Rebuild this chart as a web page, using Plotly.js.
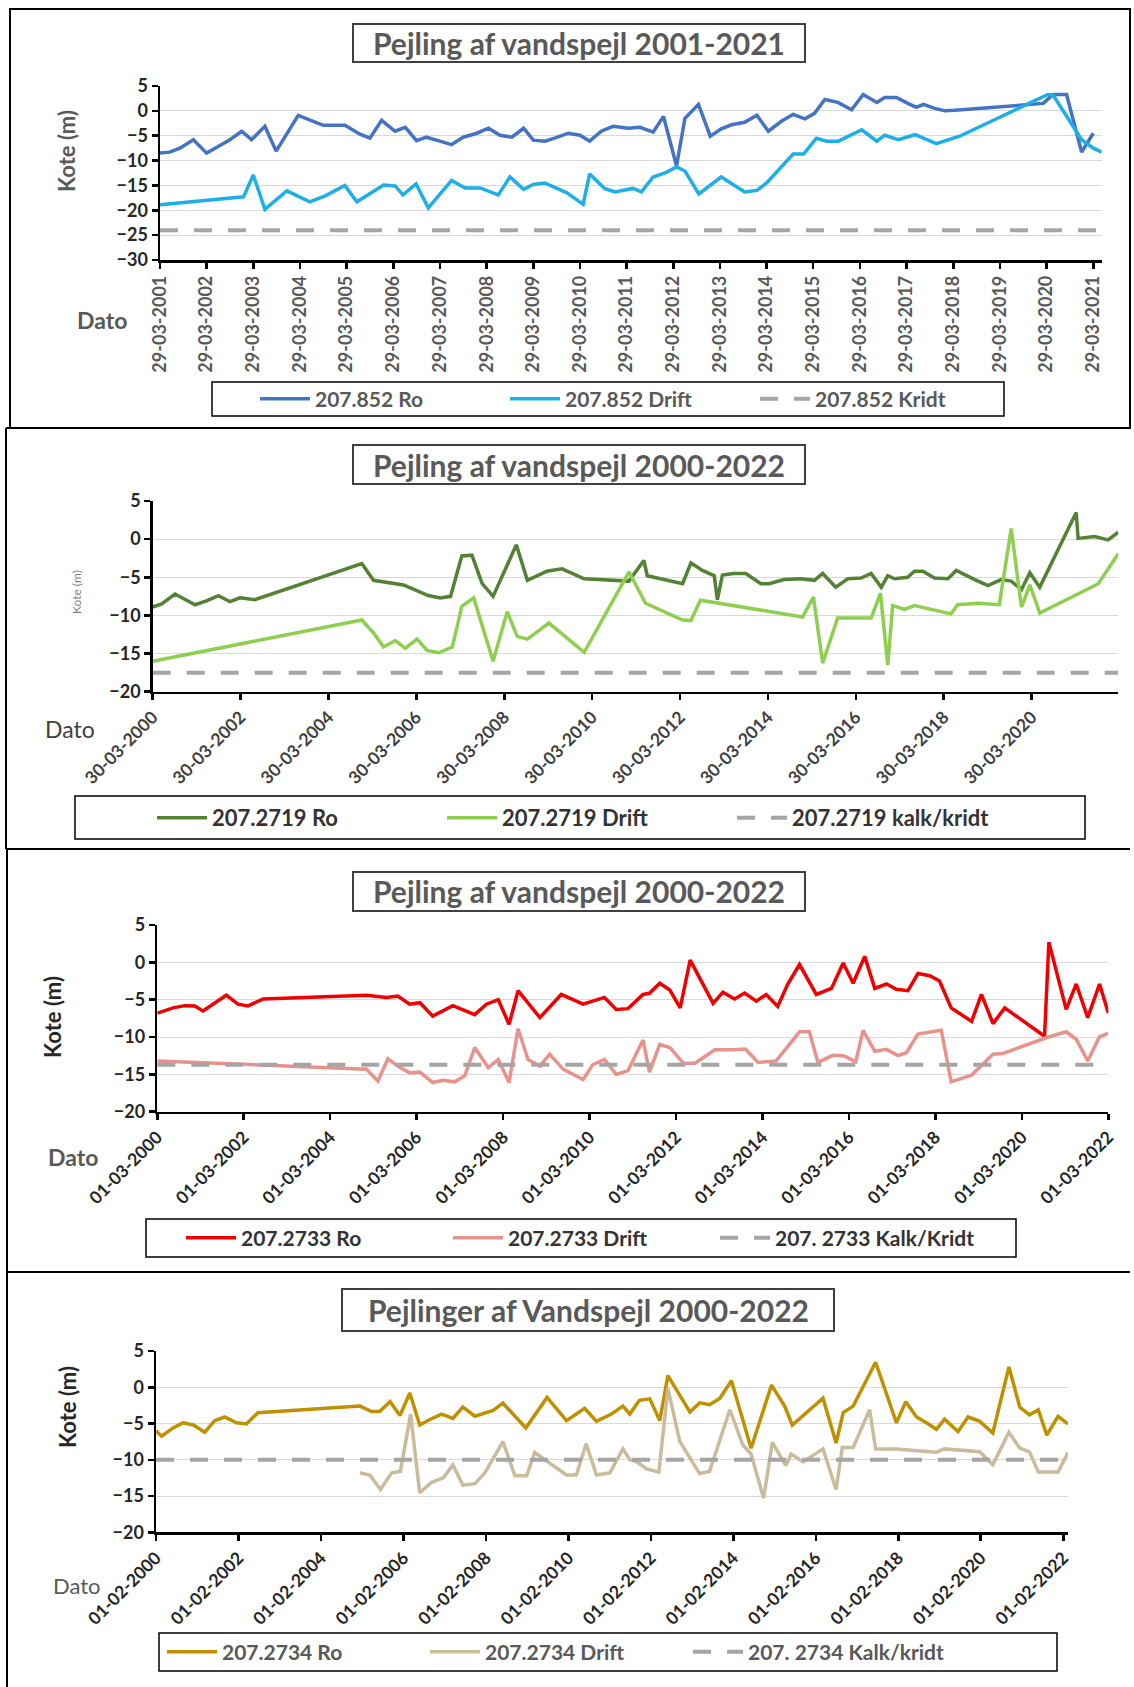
<!DOCTYPE html>
<html>
<head>
<meta charset="utf-8">
<script src="https://cdn.plot.ly/plotly-3.0.1.min.js"></script>
<style>
html,body{margin:0;padding:0;background:#fff;}
#chart{width:1134px;height:1687px;}
</style>
</head>
<body>
<div id="chart"></div>
<script>
// ---------------- DATA ----------------
// Panel 1: 207.852
const p1RoDates = ['2001-03-29','2001-06-13','2001-09-01','2001-12-15','2002-03-29','2002-07-12','2002-09-27','2002-12-28','2003-03-15','2003-06-28','2003-09-24','2004-03-15','2004-09-27','2005-03-15','2005-07-12','2005-09-27','2005-12-28','2006-04-12','2006-07-01','2006-09-27','2006-12-13','2007-03-29','2007-06-28','2007-09-27','2008-01-12','2008-04-12','2008-07-12','2008-10-12','2009-01-12','2009-03-29','2009-06-28','2009-09-12','2009-12-28','2010-03-29','2010-06-13','2010-09-12','2010-12-13','2011-04-12','2011-07-12','2011-10-23','2012-01-12','2012-04-23','2012-06-28','2012-10-12','2013-01-12','2013-04-08','2013-06-28','2013-10-08','2014-01-12','2014-04-12','2014-07-23','2014-10-23','2015-01-23','2015-04-08','2015-06-28','2015-10-08','2016-01-23','2016-04-23','2016-08-08','2016-10-08','2017-01-08','2017-04-08','2017-06-13','2017-08-08','2017-11-03','2018-01-23','2018-04-08','2020-03-03','2020-05-18','2020-09-01','2020-12-28','2021-03-29'];
const p1RoValues = [-8.5,-8.3,-7.5,-5.8,-8.5,-6.9,-5.8,-4.1,-5.8,-3.1,-8.1,-0.9,-2.9,-2.9,-4.7,-5.5,-1.9,-4.1,-3.3,-6.0,-5.3,-6.1,-6.8,-5.3,-4.5,-3.5,-4.9,-5.3,-3.5,-5.9,-6.1,-5.5,-4.5,-4.9,-6.1,-4.1,-3.1,-3.5,-3.3,-4.3,-1.1,-11.1,-1.5,1.3,-5.1,-3.6,-2.8,-2.3,-0.9,-4.1,-2.1,-0.7,-1.6,-0.5,2.3,1.7,0.2,3.3,1.7,2.7,2.7,1.5,0.7,1.3,0.5,0.0,0.1,1.5,3.3,3.3,-8.3,-4.5];
const p1DriftDates = ['2001-03-29','2003-01-12','2003-03-29','2003-06-28','2003-12-17','2004-06-13','2004-10-12','2005-03-15','2005-06-17','2005-09-27','2006-01-12','2006-04-12','2006-06-13','2006-09-23','2006-12-28','2007-06-28','2007-10-12','2008-02-06','2008-06-28','2008-09-27','2009-01-12','2009-03-29','2009-06-28','2009-12-17','2010-04-23','2010-06-13','2010-10-08','2010-12-28','2011-05-18','2011-07-23','2011-10-23','2012-01-23','2012-04-23','2012-06-28','2012-10-15','2013-04-08','2013-10-08','2014-01-12','2014-03-29','2014-10-23','2015-01-12','2015-04-23','2015-07-12','2015-10-12','2016-04-12','2016-08-08','2016-10-08','2017-01-23','2017-06-03','2017-11-17','2018-05-18','2020-04-08','2020-05-18','2020-12-28','2021-03-29','2021-06-03'];
const p1DriftValues = [-18.9,-17.3,-12.9,-19.8,-16.1,-18.3,-17.1,-15.0,-18.3,-16.7,-14.9,-15.1,-16.9,-14.7,-19.5,-14.0,-15.5,-15.5,-16.9,-13.3,-15.8,-14.8,-14.5,-16.5,-18.8,-12.7,-15.6,-16.3,-15.6,-16.3,-13.3,-12.5,-11.3,-12.1,-16.7,-13.3,-16.3,-16.0,-14.5,-8.7,-8.7,-5.5,-6.1,-6.1,-3.8,-6.1,-4.9,-5.8,-4.8,-6.6,-5.1,3.3,3.2,-5.8,-7.5,-8.3];
const p1KridtDates = ['2001-03-29','2021-06-03'];
const p1KridtValues = [-24,-24];
const p1TickDates = ['2001-03-29','2002-03-29','2003-03-29','2004-03-29','2005-03-29','2006-03-29','2007-03-29','2008-03-29','2009-03-29','2010-03-29','2011-03-29','2012-03-29','2013-03-29','2014-03-29','2015-03-29','2016-03-29','2017-03-29','2018-03-29','2019-03-29','2020-03-29','2021-03-29'];

// Panel 2: 207.2719
const p2RoDates = ['2000-03-30','2000-06-13','2000-10-01','2001-03-17','2001-06-20','2001-09-27','2002-01-01','2002-03-25','2002-07-27','2005-01-01','2005-04-08','2005-12-13','2006-07-08','2006-10-15','2007-01-08','2007-04-12','2007-07-05','2007-09-27','2007-12-28','2008-07-08','2008-10-08','2009-03-20','2009-07-23','2010-01-23','2011-01-30','2011-06-03','2011-07-01','2012-04-20','2012-06-28','2012-10-01','2013-01-08','2013-02-03','2013-03-17','2013-06-20','2013-09-27','2014-01-30','2014-04-08','2014-08-12','2014-12-28','2015-04-20','2015-06-28','2015-10-15','2016-01-23','2016-05-12','2016-08-04','2016-10-27','2016-12-20','2017-02-14','2017-06-03','2017-07-30','2017-10-08','2018-01-12','2018-05-04','2018-07-12','2018-12-13','2019-04-01','2019-07-20','2019-10-12','2020-01-05','2020-03-15','2020-06-05','2021-04-04','2021-04-20','2021-09-05','2021-12-25','2022-03-20'];
const p2RoValues = [-8.9,-8.5,-7.2,-8.6,-8.1,-7.4,-8.2,-7.7,-7.95,-3.2,-5.4,-6.0,-7.4,-7.7,-7.5,-2.2,-2.1,-5.8,-7.5,-0.75,-5.4,-4.2,-3.9,-5.2,-5.5,-2.8,-4.8,-5.85,-3.1,-4.1,-4.8,-7.95,-4.7,-4.5,-4.5,-5.85,-5.85,-5.3,-5.2,-5.4,-4.5,-6.3,-5.2,-5.1,-4.5,-6.3,-4.8,-5.2,-5.0,-4.2,-4.2,-5.1,-5.2,-4.1,-5.3,-6.1,-5.3,-5.5,-6.6,-4.4,-6.3,3.5,0.1,0.35,-0.1,0.9];
const p2DriftDates = ['2000-03-30','2005-01-01','2005-04-08','2005-07-01','2005-10-05','2005-12-28','2006-04-05','2006-06-28','2006-10-01','2007-01-23','2007-04-12','2007-07-20','2007-12-28','2008-04-23','2008-07-15','2008-10-08','2009-04-05','2010-01-23','2011-01-30','2011-06-17','2012-04-20','2012-06-28','2012-09-15','2015-01-12','2015-04-12','2015-06-28','2015-10-30','2016-08-04','2016-10-20','2016-12-20','2017-01-30','2017-05-08','2017-07-30','2018-05-30','2018-07-23','2019-01-08','2019-07-05','2019-10-12','2020-01-05','2020-03-15','2020-06-05','2021-10-05','2022-03-20'];
const p2DriftValues = [-16.0,-10.6,-12.3,-14.15,-13.3,-14.3,-13.1,-14.6,-14.9,-14.15,-8.8,-7.7,-16.0,-9.5,-12.75,-13.1,-11.0,-14.85,-4.3,-8.4,-10.6,-10.66,-8.0,-10.2,-7.6,-16.25,-10.35,-10.35,-7.1,-16.5,-8.7,-9.2,-8.7,-9.8,-8.6,-8.4,-8.6,1.4,-8.9,-6.0,-9.7,-5.85,-1.9];
const p2KridtDates = ['2000-03-30','2022-03-20'];
const p2KridtValues = [-17.5,-17.5];
const p2TickDates = ['2000-03-30','2002-03-30','2004-03-30','2006-03-30','2008-03-30','2010-03-30','2012-03-30','2014-03-30','2016-03-30','2018-03-30','2020-03-30'];

// Panel 3: 207.2733
const p3RoDates = ['2000-03-01','2000-07-12','2000-10-20','2001-01-12','2001-03-22','2001-10-05','2002-01-12','2002-04-05','2002-08-12','2005-01-01','2005-06-17','2005-09-23','2006-01-01','2006-03-29','2006-07-15','2007-01-01','2007-07-05','2007-10-12','2008-01-20','2008-04-20','2008-07-05','2009-01-05','2009-07-05','2010-01-05','2010-07-05','2010-10-12','2011-01-20','2011-05-27','2011-07-20','2011-10-15','2012-01-08','2012-04-05','2012-06-28','2013-01-08','2013-04-01','2013-07-08','2013-10-01','2014-01-08','2014-04-01','2014-07-08','2014-10-01','2015-01-08','2015-05-30','2015-10-05','2016-01-12','2016-04-05','2016-07-12','2016-10-05','2017-01-12','2017-04-05','2017-07-12','2017-10-05','2018-01-12','2018-04-05','2018-07-12','2019-01-01','2019-03-25','2019-07-01','2019-10-08','2020-09-08','2020-10-15','2021-03-10','2021-06-03','2021-09-08','2021-12-17','2022-03-01'];
const p3RoValues = [-6.8,-6.1,-5.8,-5.85,-6.5,-4.4,-5.6,-5.85,-4.9,-4.4,-4.7,-4.5,-5.6,-5.4,-7.2,-5.8,-7.0,-5.6,-5.0,-8.3,-3.8,-7.4,-4.3,-5.6,-4.7,-6.3,-6.2,-4.3,-4.15,-2.8,-3.7,-6.1,0.3,-5.5,-4.0,-4.9,-4.1,-5.2,-4.3,-5.9,-2.9,-0.3,-4.3,-3.5,-0.1,-2.8,0.8,-3.5,-2.9,-3.6,-3.8,-1.5,-1.8,-2.5,-6.1,-7.9,-4.3,-8.2,-6.1,-9.9,2.7,-6.3,-2.9,-7.4,-2.9,-6.8];
const p3DriftDates = ['2000-03-01','2005-01-01','2005-04-08','2005-07-01','2005-09-23','2006-01-01','2006-03-29','2006-07-15','2006-10-08','2007-01-15','2007-04-12','2007-07-05','2007-10-27','2008-01-20','2008-04-20','2008-07-05','2008-09-27','2009-01-05','2009-03-29','2009-07-20','2010-01-05','2010-03-29','2010-07-05','2010-10-12','2011-01-20','2011-05-27','2011-07-20','2011-10-15','2012-01-08','2012-05-01','2012-08-08','2013-01-23','2013-07-08','2013-10-08','2014-01-23','2014-06-25','2015-01-08','2015-04-01','2015-06-13','2015-10-15','2016-01-15','2016-04-27','2016-06-28','2016-10-05','2017-01-12','2017-04-20','2017-06-28','2017-10-05','2018-04-20','2018-07-12','2019-01-01','2019-07-01','2019-09-23','2020-09-23','2021-03-10','2021-06-03','2021-09-08','2021-12-17','2022-03-01'];
const p3DriftValues = [-13.2,-14.3,-15.9,-12.9,-13.9,-14.8,-14.7,-16.1,-15.8,-16.0,-15.2,-11.4,-14.1,-13.0,-16.1,-8.9,-13.0,-13.9,-12.3,-14.3,-15.7,-13.7,-13.0,-15.0,-14.5,-10.4,-14.7,-11.0,-11.4,-13.5,-13.5,-11.7,-11.7,-11.6,-13.4,-13.2,-9.3,-9.3,-13.4,-12.45,-12.5,-13.3,-9.1,-11.9,-11.65,-12.5,-12.1,-9.6,-9.1,-16.0,-15.1,-12.3,-12.2,-10.1,-9.3,-10.3,-13.2,-9.95,-9.5];
const p3KridtDates = ['2000-03-01','2022-03-01'];
const p3KridtValues = [-13.7,-13.7];
const p3TickDates = ['2000-03-01','2002-03-01','2004-03-01','2006-03-01','2008-03-01','2010-03-01','2012-03-01','2014-03-01','2016-03-01','2018-03-01','2020-03-01','2022-03-01'];

// Panel 4: 207.2734
const p4RoDates = ['2000-02-01','2000-03-22','2000-07-01','2000-09-27','2000-12-28','2001-04-08','2001-07-05','2001-10-01','2002-01-15','2002-04-12','2002-07-23','2002-11-03','2005-01-12','2005-04-23','2005-07-05','2005-10-05','2006-01-01','2006-03-29','2006-06-25','2006-09-23','2007-01-05','2007-04-15','2007-07-12','2007-10-27','2008-01-23','2008-04-05','2008-07-01','2008-10-15','2009-01-20','2009-07-27','2010-01-15','2010-06-25','2010-10-08','2011-02-17','2011-05-30','2011-07-30','2011-10-23','2012-01-23','2012-04-20','2012-07-01','2013-01-12','2013-04-08','2013-07-05','2013-10-05','2014-01-15','2014-07-08','2015-01-05','2015-05-01','2015-07-08','2016-04-05','2016-07-30','2016-10-01','2016-12-28','2017-07-15','2018-01-15','2018-04-08','2018-07-12','2018-10-08','2019-01-05','2019-03-17','2019-07-15','2019-10-12','2020-01-23','2020-05-18','2020-10-08','2021-01-12','2021-04-08','2021-06-25','2021-09-08','2021-12-17','2022-03-15'];
const p4RoValues = [-6.0,-6.75,-5.6,-4.9,-5.2,-6.2,-4.6,-4.1,-4.9,-5.05,-3.5,-3.4,-2.6,-3.35,-3.35,-2.0,-3.9,-0.8,-5.2,-4.45,-3.7,-4.3,-2.75,-4.0,-3.5,-3.2,-2.2,-4.0,-5.6,-1.4,-4.6,-2.9,-4.7,-3.7,-2.6,-3.7,-1.8,-1.6,-4.6,1.6,-3.4,-2.15,-2.4,-1.5,0.9,-8.4,0.3,-2.6,-5.2,-1.5,-7.7,-3.5,-2.6,3.45,-4.9,-2.0,-4.1,-4.9,-5.8,-4.4,-6.1,-4.1,-4.7,-6.3,2.8,-2.75,-3.8,-3.1,-6.6,-4.0,-5.05];
const p4DriftDates = ['2005-01-12','2005-04-08','2005-07-12','2005-10-20','2006-01-05','2006-04-05','2006-06-25','2006-10-08','2007-01-20','2007-04-15','2007-07-12','2007-10-27','2008-01-23','2008-07-01','2008-10-15','2009-01-27','2009-04-08','2009-07-05','2010-01-15','2010-04-12','2010-07-08','2010-10-08','2011-02-03','2011-05-30','2011-07-30','2011-09-23','2011-12-25','2012-04-12','2012-07-01','2012-10-15','2013-04-08','2013-07-05','2014-01-01','2014-04-27','2014-07-08','2014-10-27','2015-01-12','2015-05-12','2015-06-28','2015-10-12','2016-04-05','2016-07-30','2016-09-23','2016-12-28','2017-05-23','2017-07-15','2018-01-15','2019-01-05','2019-03-17','2020-01-23','2020-05-18','2020-10-08','2021-01-12','2021-04-08','2021-06-25','2021-12-17','2022-03-15'];
const p4DriftValues = [-11.8,-12.1,-14.1,-11.8,-11.6,-3.7,-14.55,-13.1,-12.5,-10.7,-13.5,-13.3,-11.8,-7.5,-12.2,-12.2,-9.0,-10.0,-12.1,-12.1,-7.8,-12.1,-11.8,-8.5,-10.0,-10.2,-11.25,-11.7,-0.2,-7.5,-11.9,-11.6,-3.1,-8.0,-9.2,-15.3,-7.6,-10.8,-9.2,-10.3,-8.5,-14.1,-8.3,-8.3,-3.1,-8.5,-8.5,-8.95,-8.5,-8.9,-10.7,-6.2,-8.4,-8.9,-11.7,-11.7,-9.0];
const p4KridtDates = ['2000-02-01','2022-03-15'];
const p4KridtValues = [-10,-10];
const p4TickDates = ['2000-02-01','2002-02-01','2004-02-01','2006-02-01','2008-02-01','2010-02-01','2012-02-01','2014-02-01','2016-02-01','2018-02-01','2020-02-01','2022-02-01'];

// ---------------- LAYOUT HELPERS ----------------
const W = 1134, H = 1687;
const fx = x => x / W;
const fy = y => 1 - y / H;
const FONT = 'Lato, "Open Sans", sans-serif';
const GRID = '#D9D9D9';
const KRIDT = '#A5A5A5';
const DASH = '18px,16px';

function line(x, y, color, width, name, xa, ya, leg, dash) {
  return {x: x, y: y, type: 'scatter', mode: 'lines', name: name,
    line: {color: color, width: width, dash: dash || 'solid'},
    xaxis: xa, yaxis: ya, legend: leg, hoverinfo: 'skip'};
}

const traces = [
  line(p1RoDates, p1RoValues, '#4472C4', 3.5, '207.852 Ro', 'x', 'y', 'legend'),
  line(p1DriftDates, p1DriftValues, '#1EAEE8', 3.5, '207.852 Drift', 'x', 'y', 'legend'),
  line(p1KridtDates, p1KridtValues, KRIDT, 4, '207.852 Kridt', 'x', 'y', 'legend', DASH),
  line(p2RoDates, p2RoValues, '#548235', 3.5, '207.2719 Ro', 'x2', 'y2', 'legend2'),
  line(p2DriftDates, p2DriftValues, '#8FCF4F', 3.5, '207.2719 Drift', 'x2', 'y2', 'legend2'),
  line(p2KridtDates, p2KridtValues, KRIDT, 4, '207.2719 kalk/kridt', 'x2', 'y2', 'legend2', DASH),
  line(p3RoDates, p3RoValues, '#F00000', 3.5, '207.2733 Ro', 'x3', 'y3', 'legend3'),
  line(p3DriftDates, p3DriftValues, '#E8928C', 3.5, '207.2733 Drift', 'x3', 'y3', 'legend3'),
  line(p3KridtDates, p3KridtValues, KRIDT, 4, '207. 2733 Kalk/Kridt', 'x3', 'y3', 'legend3', DASH),
  line(p4RoDates, p4RoValues, '#BF9000', 3.5, '207.2734 Ro', 'x4', 'y4', 'legend4'),
  line(p4DriftDates, p4DriftValues, '#CBBB9D', 3.5, '207.2734 Drift', 'x4', 'y4', 'legend4'),
  line(p4KridtDates, p4KridtValues, KRIDT, 4, '207. 2734 Kalk/kridt', 'x4', 'y4', 'legend4', DASH)
];

function xax(domain, range, ticks, angle, anchor, fontColor, size) {
  return {domain: domain, anchor: anchor, type: 'date', range: range,
    tickmode: 'array', tickvals: ticks, tickformat: '%d-%m-%Y', tickangle: angle,
    showgrid: false, zeroline: false, showline: true, linecolor: '#000', linewidth: 2.5,
    ticks: 'outside', ticklen: 6, tickwidth: 2.5, tickcolor: '#000',
    tickfont: {family: FONT, size: size, color: fontColor, weight: 'bold'}, fixedrange: true};
}
function yax(domain, range, anchor, fontColor, size) {
  return {domain: domain, anchor: anchor, range: range, dtick: 5, tick0: 0,
    showgrid: true, gridcolor: GRID, gridwidth: 1, zeroline: false,
    showline: true, linecolor: '#000', linewidth: 2.5,
    ticks: 'outside', ticklen: 6, tickwidth: 2.5, tickcolor: '#000',
    tickfont: {family: FONT, size: size, color: fontColor, weight: 'bold'}, fixedrange: true};
}

function legendBox(xLeft, yMid, entry, size, color) {
  return {orientation: 'h', x: fx(xLeft), xanchor: 'left', y: fy(yMid), yanchor: 'middle',
    bgcolor: 'rgba(0,0,0,0)', borderwidth: 0, entrywidth: entry, entrywidthmode: 'pixels',
    itemwidth: 50, font: {family: FONT, size: size, color: color, weight: 'bold'}};
}

function rect(x0, y0, x1, y1, color, w) {
  return {type: 'rect', xref: 'paper', yref: 'paper', x0: fx(x0), x1: fx(x1), y0: fy(y1), y1: fy(y0),
    line: {color: color, width: w}, fillcolor: 'rgba(0,0,0,0)', layer: 'below'};
}
function seg(x0, y0, x1, y1, color, w) {
  return {type: 'line', xref: 'paper', yref: 'paper', x0: fx(x0), x1: fx(x1), y0: fy(y0), y1: fy(y1),
    line: {color: color, width: w}};
}
function ann(text, x, y, size, color, bold, angle) {
  return {text: text, xref: 'paper', yref: 'paper', x: fx(x), y: fy(y), xanchor: 'center', yanchor: 'middle',
    showarrow: false, textangle: angle || 0,
    font: {family: FONT, size: size, color: color, weight: bold ? 'bold' : 'normal'}};
}

const layout = {
  width: W, height: H, autosize: false,
  margin: {l: 0, r: 0, t: 0, b: 0},
  paper_bgcolor: '#fff', plot_bgcolor: 'rgba(0,0,0,0)',
  showlegend: true,
  xaxis: xax([fx(160), fx(1101.7)], ['2001-03-29', '2021-06-03'], p1TickDates, -90, 'y', '#595959', 18),
  yaxis: yax([fy(260), fy(86)], [-30, 5], 'x', '#262626', 18),
  xaxis2: xax([fx(152.7), fx(1118.3)], ['2000-03-30', '2022-03-20'], p2TickDates, -45, 'y2', '#404040', 17.5),
  yaxis2: yax([fy(691.7), fy(501)], [-20, 5], 'x2', '#262626', 18),
  xaxis3: xax([fx(157.3), fx(1108.3)], ['2000-03-01', '2022-03-01'], p3TickDates, -45, 'y3', '#262626', 17.5),
  yaxis3: yax([fy(1111.7), fy(925)], [-20, 5], 'x3', '#262626', 18),
  xaxis4: xax([fx(156), fx(1068)], ['2000-02-01', '2022-03-15'], p4TickDates, -45, 'y4', '#262626', 17.5),
  yaxis4: yax([fy(1532.3), fy(1351)], [-20, 5], 'x4', '#262626', 18),
  legend: legendBox(255, 399, 185, 21, '#595959'),
  legend2: legendBox(152, 818, 225, 22, '#333333'),
  legend3: legendBox(181, 1238, 202, 21, '#333333'),
  legend4: legendBox(162, 1652, 198, 21, '#595959'),
  shapes: [
    // panel frames
    rect(10, 9, 1130, 428, '#000', 2),
    seg(6, 428, 1130, 428, '#000', 2),
    seg(6, 428, 6, 849, '#000', 2),
    seg(6, 849, 1130, 849, '#000', 2),
    seg(7, 849, 7, 1272, '#000', 2),
    seg(7, 1272, 1130, 1272, '#000', 2),
    seg(7, 1272, 7, 1687, '#000', 2),
    // title boxes
    rect(353, 24, 805, 62, '#404040', 2),
    rect(353, 445, 805, 484, '#404040', 2),
    rect(353, 872, 805, 911, '#404040', 2),
    rect(342, 1289, 834, 1331, '#404040', 2),
    // legend boxes
    rect(212, 382, 1004, 416, '#000', 1.5),
    rect(75, 796, 1085, 839, '#000', 1.5),
    rect(146, 1219, 1016, 1257, '#000', 1.5),
    rect(159, 1633, 1057, 1671, '#000', 1.5)
  ],
  annotations: [
    ann('Pejling af vandspejl 2001-2021', 579, 43, 30, '#595959', true),
    ann('Pejling af vandspejl 2000-2022', 579, 465, 30, '#595959', true),
    ann('Pejling af vandspejl 2000-2022', 579, 891, 30, '#595959', true),
    ann('Pejlinger af Vandspejl 2000-2022', 588, 1310, 30, '#595959', true),
    ann('Kote (m)', 66, 151, 22, '#595959', true, -90),
    ann('Kote (m)', 76, 592, 12, '#7F7F7F', false, -90),
    ann('Kote (m)', 52, 1017, 22, '#262626', true, -90),
    ann('Kote (m)', 67, 1407, 22, '#262626', true, -90),
    ann('Dato', 102, 320, 23, '#595959', true),
    ann('Dato', 70, 729, 23, '#404040', false),
    ann('Dato', 73, 1157, 23, '#595959', true),
    ann('Dato', 77, 1585, 22, '#595959', false)
  ]
};

Plotly.newPlot('chart', traces, layout, {displayModeBar: false, staticPlot: true});
</script>
</body>
</html>
